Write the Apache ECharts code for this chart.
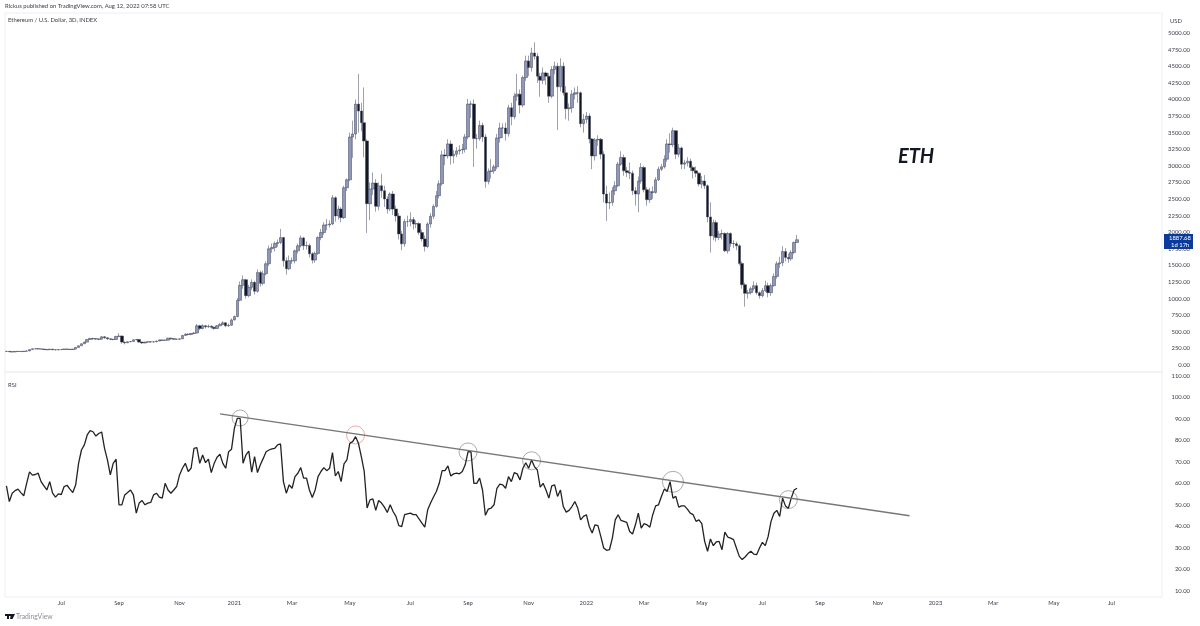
<!DOCTYPE html>
<html>
<head>
<meta charset="utf-8">
<title>ETH</title>
<style>
  html, body { margin: 0; padding: 0; background: #fff; }
  #chart { width: 1200px; height: 626px; }
</style>
<script src="https://cdn.jsdelivr.net/npm/echarts@6/dist/echarts.min.js"></script>
</head>
<body>
<div id="chart"></div>
<script>
// 3D bars
var opens = [
  205,207,200,197,205,205,203,208,212,232,
  245,245,243,240,235,230,240,230,228,232,
  235,240,238,233,240,265,290,320,345,385,
  400,395,392,390,425,410,395,388,385,430,
  437,345,335,350,355,380,385,345,332,345,
  350,348,350,362,378,372,375,405,395,390,
  388,395,445,465,460,475,482,590,550,592,
  575,585,570,550,590,612,635,590,600,680,
  730,975,1200,1285,1045,1170,1245,1110,1395,1230,
  1375,1525,1750,1770,1830,1845,1920,1570,1450,1570,
  1570,1720,1795,1915,1795,1800,1675,1580,1680,1920,
  1995,2110,2110,2125,2520,2245,2350,2220,2670,2790,
  3435,3480,3930,3825,3650,3375,2430,2650,2740,2390,
  2700,2625,2500,2350,2575,2350,2245,1975,1825,2160,
  2160,2190,2125,2130,1995,1900,1785,2125,2240,2390,
  2550,2730,3165,3150,3330,3150,3175,3225,3240,3250,
  3435,3930,3930,3410,3410,3610,3435,2765,2915,2925,
  2985,3420,3570,3570,3485,3875,3740,4050,4080,3915,
  4330,4580,4480,4700,4650,4350,4290,4400,4350,4050,
  4450,4500,4190,4500,4100,3860,3875,4080,4100,4100,
  3635,3700,3750,3405,3150,3390,3400,3175,2575,2440,
  2450,2625,2700,3025,3125,2925,2900,2890,2625,2575,
  2770,2975,2640,2490,2610,2600,2790,2950,2985,3100,
  3330,3320,3530,3175,3270,3025,3045,3070,2975,2925,
  2890,2725,2770,2700,2230,1945,2145,1920,1975,1980,
  1720,1980,1830,1825,1795,1530,1210,1080,1090,1150,
  1195,1090,1045,1120,1195,1090,1195,1335,1525,1540,
  1710,1620,1600,1695,1845
];
var closes = [
  207,200,197,205,205,203,208,212,232,245,
  245,243,240,235,230,240,230,228,232,235,
  240,238,233,240,265,290,320,345,385,400,
  395,392,390,425,410,395,388,385,430,437,
  345,335,350,355,380,385,345,332,345,350,
  348,350,362,378,372,375,405,395,390,388,
  395,445,465,460,475,482,590,550,592,575,
  585,570,550,590,612,635,590,600,680,730,
  975,1200,1285,1045,1170,1245,1110,1395,1230,1375,
  1525,1750,1770,1830,1845,1920,1570,1450,1570,1570,
  1720,1795,1915,1795,1800,1675,1580,1680,1920,1995,
  2110,2110,2125,2520,2245,2350,2220,2670,2790,3435,
  3480,3930,3825,3650,3375,2430,2650,2740,2390,2700,
  2625,2500,2350,2575,2350,2245,1975,1825,2160,2160,
  2190,2125,2130,1995,1900,1785,2125,2240,2390,2550,
  2730,3165,3150,3330,3150,3175,3225,3240,3250,3435,
  3930,3930,3410,3410,3610,3435,2765,2915,2925,2985,
  3420,3570,3570,3485,3875,3740,4050,4080,3915,4330,
  4580,4480,4700,4650,4350,4290,4400,4350,4050,4450,
  4500,4190,4500,4100,3860,3875,4080,4100,4100,3635,
  3700,3750,3405,3150,3390,3400,3175,2575,2440,2450,
  2625,2700,3025,3125,2925,2900,2890,2625,2575,2770,
  2975,2640,2490,2610,2600,2790,2950,2985,3100,3330,
  3320,3530,3175,3270,3025,3045,3070,2975,2925,2890,
  2725,2770,2700,2230,1945,2145,1920,1975,1980,1720,
  1980,1830,1825,1795,1530,1210,1080,1090,1150,1195,
  1090,1045,1120,1195,1090,1195,1335,1525,1540,1710,
  1620,1600,1695,1845,1887
];
var lows = [
  200,195,192,195,198,198,200,205,210,230,
  238,238,235,228,225,228,225,222,225,228,
  232,230,226,230,238,262,288,316,340,380,
  380,378,376,385,395,380,375,372,382,425,
  320,310,330,342,350,372,335,320,328,338,
  338,340,345,358,360,362,370,380,380,378,
  382,390,440,445,450,465,478,525,540,550,
  560,550,530,545,585,600,570,575,590,670,
  720,960,1150,1000,1020,1130,1060,1090,1180,1200,
  1350,1490,1690,1710,1780,1820,1480,1360,1430,1520,
  1530,1680,1770,1730,1740,1620,1530,1540,1660,1880,
  1960,2030,2070,2110,2160,2190,2150,2200,2620,2770,
  3120,3400,3500,3520,3130,1990,2180,2560,2310,2330,
  2520,2380,2280,2320,2260,2160,1890,1730,1780,2080,
  2090,2040,2060,1960,1860,1710,1760,2070,2200,2370,
  2510,2700,3010,3110,3020,3040,3130,3170,3180,3200,
  3400,3720,2985,3260,3380,3360,2670,2720,2810,2880,
  2950,3350,3420,3380,3440,3610,3700,3980,3790,3880,
  4280,4350,4420,4600,4250,4040,4230,4220,3950,4020,
  4380,3540,4120,4060,3700,3680,3800,4000,3950,3580,
  3500,3640,3340,2950,3080,3300,3100,2450,2170,2350,
  2400,2560,2680,3000,2850,2830,2800,2560,2400,2300,
  2730,2600,2400,2440,2500,2580,2770,2920,2960,3060,
  3200,3280,3100,3130,2950,2950,2990,2920,2810,2830,
  2690,2660,2650,2150,1695,1880,1860,1880,1890,1700,
  1680,1780,1760,1730,1500,1150,880,1000,1060,1120,
  1060,1000,1020,1100,1020,1040,1180,1300,1460,1490,
  1560,1540,1570,1670,1840
];
var highs = [
  212,208,203,210,210,208,212,218,238,250,
  250,248,247,243,238,244,242,234,236,240,
  246,244,240,245,270,296,328,352,392,412,
  410,402,400,436,432,405,396,392,440,480,
  445,352,358,362,388,392,392,350,352,358,
  356,356,368,385,382,382,412,410,398,396,
  402,452,478,476,484,495,620,605,615,605,
  610,598,580,605,635,660,645,625,700,745,
  1010,1260,1350,1300,1210,1290,1270,1440,1420,1420,
  1560,1800,1830,1860,1890,2050,1930,1620,1650,1620,
  1740,1830,1950,1930,1860,1830,1700,1710,1940,2050,
  2150,2200,2180,2560,2540,2400,2380,2700,2810,3500,
  3680,4000,4385,3950,4180,3400,2750,2900,2800,2750,
  2880,2700,2540,2600,2620,2400,2290,2020,2200,2250,
  2300,2230,2180,2150,2040,1950,2150,2290,2420,2620,
  2780,3230,3250,3400,3380,3240,3280,3310,3330,3480,
  4010,3980,4000,3480,3680,3650,3480,2960,3100,3020,
  3480,3650,3640,3650,3920,3950,4100,4385,4150,4360,
  4660,4660,4780,4860,4700,4400,4480,4420,4400,4500,
  4570,4550,4620,4560,4200,3940,4140,4180,4200,4120,
  3780,3810,3790,3420,3420,3460,3420,3220,2700,2600,
  2680,2770,3060,3220,3170,2980,3050,2930,2680,2840,
  3040,3000,2680,2670,2690,2830,2990,3030,3160,3400,
  3490,3575,3530,3330,3290,3090,3130,3110,3000,2990,
  2900,2850,2860,2720,2450,2190,2180,2020,2040,2000,
  2000,2000,1880,1860,1820,1560,1240,1130,1180,1260,
  1240,1110,1160,1270,1240,1230,1380,1560,1630,1790,
  1760,1680,1730,1860,1960
];
var rsiValues = [
  58.9,51.6,55.5,56.7,57.4,55.8,54.3,60.1,65.4,63.9,
  64.2,64.8,60.9,58.9,57,60.9,55.5,53.7,55.2,54.9,
  58.6,59.2,57.4,55.8,59.4,69.4,75.6,78,82.6,84.6,
  84.1,82.1,83.3,84,76.4,71,64,69.4,71.3,50.1,
  50.1,54.7,55.8,57,54.7,46.2,50.9,52.1,50.1,50.9,
  51.2,54.7,55.5,53.7,53.2,60.1,57,55.5,57,58.6,
  64,67.1,69.4,65.6,67.1,76.4,76.7,69.4,73.3,69.7,
  71.4,65.1,69.4,72.2,73.6,69.4,67.1,74.8,75.9,85.7,
  90.3,90.3,69.4,73.3,75.1,65.3,72.5,65.1,68.7,71.7,
  74.8,75.6,76.1,76.4,78,78.4,60.9,55.5,59.4,57.8,
  63.2,64.8,67.4,62.5,62.5,57,53.5,57,63.2,65.6,
  67.4,66,67.1,74.4,63.5,65.6,60.9,69.1,71,78.7,
  79.5,81.8,78.7,72.5,65.6,48.6,52.4,52.9,47.5,52.1,
  50.9,49,46.5,50.1,47,44.7,40.4,40,45.5,45.9,
  46.2,45.5,45.5,43.5,41.6,39.7,47.8,50.9,53.7,56.3,
  60.1,66,66,68.2,63.5,64.5,64.8,64.5,65.6,68.7,
  74.8,74.8,60.1,60.1,62.5,57,45.2,48.1,48.6,50.1,
  57.8,59.7,59.4,57.8,63.2,60.9,65.1,64.5,61.7,67.1,
  69.7,67.1,71,67.9,66.3,58.3,60.1,57,53.2,58.9,
  59.4,54,57,49.3,46.7,47.5,49.3,51.6,48.6,43.1,
  44.7,45.5,40,37,40.8,40.4,35.4,30,28.9,29.2,
  34.6,43.1,45.5,42.8,42.4,41.9,37.7,36.5,40.8,46.2,
  39.3,41.3,40.8,39.7,45.5,49.6,50.1,54,57.4,56.3,
  60.9,53.2,54,49,49.6,49.6,48.1,46.2,45.5,42.4,
  43.1,41.3,33.1,28.5,34.2,31.1,32.8,33.1,29.2,37.4,
  35.1,34.6,33.9,30,26.1,24.6,25.8,27.4,28.5,27.2,
  26.9,30,32.6,31.1,35.4,42.4,46.2,47.5,44.7,53.2,
  49.6,48.5,53.2,57,57.8
];

// trend line and circled RSI peaks: [bar index, rsi value]
var trendLine = [[74, 92.4], [313, 45]];
var circlePoints = [[81, 90.5], [121, 82.6], [160, 74.7], [182, 70.6], [231, 60.8], [271, 52.5]];
var circleSizes = [16, 18, 18, 18, 21, 18];
var circleColors = ['#8a8a8a', '#e08a8a', '#8a8a8a', '#8a8a8a', '#8a8a8a', '#8a8a8a'];

var priceTicks = [0, 250, 500, 750, 1000, 1250, 1500, 1750, 2000, 2250, 2500, 2750, 3000, 3250, 3500, 3750, 4000, 4250, 4500, 4750, 5000];
var rsiTicks = [10, 20, 30, 40, 50, 60, 70, 80, 90, 100, 110];
var monthBars = [19, 39, 60, 79, 99, 119, 140, 160, 181, 201, 221, 241, 262, 282, 302, 322, 342, 363, 383];
var monthNames = ['Jul', 'Sep', 'Nov', '2021', 'Mar', 'May', 'Jul', 'Sep', 'Nov', '2022', 'Mar', 'May', 'Jul', 'Sep', 'Nov', '2023', 'Mar', 'May', 'Jul'];

// 3 day bars, the axis goes on past the last candle
var dates = [];
for (var i = 0; i < 401; i++) {
  dates.push(new Date(Date.UTC(2020, 4, 11 + i * 3)).toISOString().slice(0, 10));
}
var barLabels = {};
monthBars.forEach(function (b, i) {
  barLabels[dates[b]] = monthNames[i];
});

var candles = closes.map(function (c, i) {
  return [opens[i], c, lows[i], highs[i]];
});

var FONT = 'Lato, "Open Sans", sans-serif';
var TEXT = '#3a3e4a';
var BORDER = '#eceef2';

function smallText(x, y, text, size, color) {
  return {
    type: 'text', left: x, top: y, silent: true,
    style: { text: text, fontSize: size || 5.9, fontFamily: FONT, fill: color || TEXT }
  };
}

var myChart = echarts.init(document.getElementById('chart'), null, { renderer: 'canvas' });
myChart.setOption({
  animation: false,
  backgroundColor: '#fff',
  grid: [
    { left: 5, right: 38, top: 13, height: 359, show: true, borderColor: BORDER, borderWidth: 1 },
    { left: 5, right: 38, top: 372, height: 225, show: true, borderColor: BORDER, borderWidth: 1 }
  ],
  xAxis: [
    {
      type: 'category', gridIndex: 0, data: dates,
      axisLine: { show: false }, axisTick: { show: false }, axisLabel: { show: false }, splitLine: { show: false }
    },
    {
      type: 'category', gridIndex: 1, data: dates,
      axisLine: { show: false }, axisTick: { show: false }, splitLine: { show: false },
      axisLabel: {
        fontSize: 5.9, fontFamily: FONT, color: TEXT, margin: 3, hideOverlap: false,
        interval: function (index, value) { return barLabels[value] !== undefined; },
        formatter: function (value) { return barLabels[value] || ''; }
      }
    }
  ],
  yAxis: [
    {
      type: 'value', gridIndex: 0, position: 'right', min: -105, max: 5302, scale: true,
      axisLine: { show: false }, axisTick: { show: false }, splitLine: { show: false },
      axisLabel: {
        customValues: priceTicks, fontSize: 5.9, fontFamily: FONT, color: TEXT, align: 'right', margin: 28,
        formatter: function (v) { return v.toFixed(2); }
      }
    },
    {
      type: 'value', gridIndex: 1, position: 'right', min: 7.2, max: 111.9, scale: true,
      axisLine: { show: false }, axisTick: { show: false }, splitLine: { show: false },
      axisLabel: {
        customValues: rsiTicks, fontSize: 5.9, fontFamily: FONT, color: TEXT, align: 'right', margin: 28,
        formatter: function (v) { return v.toFixed(2); }
      }
    }
  ],
  series: [
    {
      name: 'ETH', type: 'candlestick', xAxisIndex: 0, yAxisIndex: 0, data: candles, barWidth: 3,
      itemStyle: { color: '#8f97ba', color0: '#131722', borderColor: '#3c4158', borderColor0: '#3c4158', borderWidth: 0.5 }
    },
    {
      name: 'RSI', type: 'line', xAxisIndex: 1, yAxisIndex: 1, data: rsiValues, showSymbol: false,
      lineStyle: { color: '#222', width: 1.3 }
    },
    {
      name: 'Trend', type: 'line', xAxisIndex: 1, yAxisIndex: 1, data: trendLine, showSymbol: false,
      lineStyle: { color: '#777', width: 1.3 }
    },
    {
      name: 'Peaks', type: 'scatter', xAxisIndex: 1, yAxisIndex: 1,
      data: circlePoints.map(function (p, i) {
        return {
          value: p, symbolSize: circleSizes[i],
          itemStyle: { color: 'transparent', borderColor: circleColors[i], borderWidth: 0.9 }
        };
      })
    }
  ],
  graphic: [
    smallText(5, 3, 'Rickus published on TradingView.com, Aug 12, 2022 07:58 UTC'),
    smallText(8, 17, 'Ethereum / U.S. Dollar, 3D, INDEX'),
    smallText(8, 382, 'RSI'),
    smallText(1170, 18, 'USD'),
    {
      type: 'text', left: 898, top: 147, silent: true,
      style: { text: 'ETH', fontSize: 20, fontStyle: 'italic', fontWeight: 700, fontFamily: FONT, fill: '#131722' }
    },
    { type: 'rect', left: 1164, top: 234, shape: { width: 29, height: 15 }, style: { fill: '#0b3a9e' }, silent: true },
    smallText(1169, 235.5, '1887.68', 5.9, '#fff'),
    smallText(1171, 242.5, '1d 17h', 5.9, '#fff'),
    // TradingView mark in the footer
    { type: 'rect', left: 5, top: 614, shape: { width: 6, height: 2 }, style: { fill: '#131722' }, silent: true },
    { type: 'rect', left: 7, top: 614, shape: { width: 2, height: 5 }, style: { fill: '#131722' }, silent: true },
    {
      type: 'polygon', left: 10, top: 614, silent: true,
      shape: { points: [[1, 0], [5, 0], [2.5, 5], [0, 5]] }, style: { fill: '#131722' }
    },
    smallText(16, 613, 'TradingView', 6.8, '#8a8e99')
  ]
});
</script>
</body>
</html>
